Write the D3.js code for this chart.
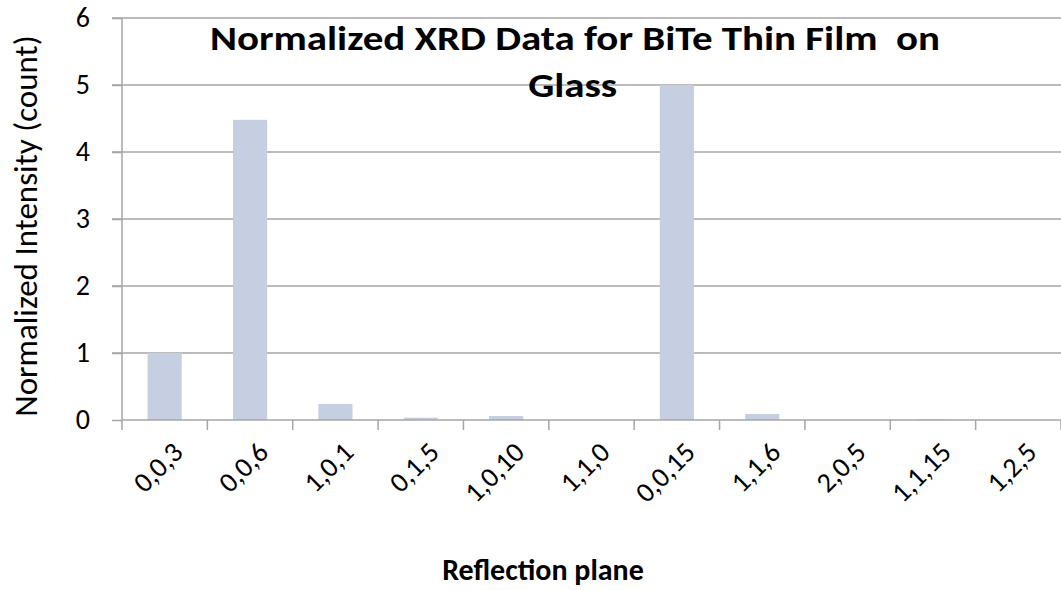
<!DOCTYPE html>
<meta charset="utf-8">
<html lang="en">
<head>
<meta charset="utf-8">
<title>Normalized XRD Data</title>
<script src="https://d3js.org/d3.v7.min.js"></script>
<style type="text/css">
body { margin: 0; background: #fff; }
text { font-family: Carlito, Lato, "Liberation Sans", sans-serif; fill: #000; }
.grid line { stroke: #a6a6a6; stroke-width: 1.5px; }
.bar { fill: #c6cee2; }
</style>
</head>
<body>
<div id="chart"></div>
<script type="text/javascript">
"use strict";

var planes = ["0,0,3", "0,0,6", "1,0,1", "0,1,5", "1,0,10", "1,1,0", "0,0,15", "1,1,6", "2,0,5", "1,1,15", "1,2,5"];
var intensity = [1.0, 4.48, 0.24, 0.035, 0.06, 0, 5.0, 0.09, 0, 0.01, 0];
var yTicks = [0, 1, 2, 3, 4, 5, 6];

var width = 1061, height = 590;
var margin = {left: 122, right: 0, top: 18, bottom: 170};

var svg = d3.select("#chart").append("svg")
    .attr("width", width)
    .attr("height", height);

var x = d3.scaleBand()
    .domain(planes)
    .range([margin.left, width - margin.right])
    .paddingInner(0.6)
    .paddingOuter(0.3);

var y = d3.scaleLinear()
    .domain([0, 6])
    .range([height - margin.bottom, margin.top]);

// gridlines
svg.append("g").attr("class", "grid")
  .selectAll("line")
  .data(yTicks.filter(function(d) { return d > 0; }))
  .enter().append("line")
    .attr("x1", margin.left - 10)
    .attr("x2", width - margin.right)
    .attr("y1", function(d) { return y(d); })
    .attr("y2", function(d) { return y(d); });

// bars
svg.append("g")
  .selectAll("rect")
  .data(planes)
  .enter().append("rect")
    .attr("class", "bar")
    .attr("x", function(d) { return x(d); })
    .attr("width", x.bandwidth())
    .attr("y", function(d, i) { return y(intensity[i]); })
    .attr("height", function(d, i) { return y(0) - y(intensity[i]); });

// y axis
var yAxis = svg.append("g")
    .attr("transform", "translate(" + margin.left + ",0)")
    .call(d3.axisLeft(y).tickValues(yTicks).tickFormat(d3.format("d")).tickSize(10).tickPadding(22));
yAxis.select(".domain").attr("stroke", "#a6a6a6").attr("stroke-width", 1.5).attr("d", "M0," + y(6) + "V" + y(0));
yAxis.selectAll(".tick line").attr("stroke", "#a6a6a6").attr("stroke-width", 1.5);
yAxis.selectAll("text").style("font-size", "28px").attr("font-family", null);

// x axis: ticks at category boundaries
var step = x.step();
var boundaries = d3.range(planes.length + 1).map(function(i) { return margin.left + i * step; });
var xg = svg.append("g");
xg.append("line")
    .attr("x1", margin.left).attr("x2", width - margin.right)
    .attr("y1", y(0)).attr("y2", y(0))
    .attr("stroke", "#a6a6a6").attr("stroke-width", 1.5);
xg.selectAll(".xt")
  .data(boundaries)
  .enter().append("line")
    .attr("x1", function(d) { return d; })
    .attr("x2", function(d) { return d; })
    .attr("y1", y(0)).attr("y2", y(0) + 10)
    .attr("stroke", "#a6a6a6").attr("stroke-width", 1.5);

xg.selectAll(".xl")
  .data(planes)
  .enter().append("text")
    .attr("transform", function(d) {
      return "translate(" + (x(d) + x.bandwidth() / 2 + 13) + "," + (y(0) + 27) + ") rotate(-45)";
    })
    .attr("text-anchor", "end")
    .attr("dy", "0.35em")
    .style("font-size", "28px")
    .text(function(d) { return d; });

// titles
var title = svg.append("text")
    .attr("transform", "translate(575,0) scale(1.17,1)")
    .attr("text-anchor", "middle")
    .style("font-size", "35px")
    .style("font-weight", "bold");
title.append("tspan").attr("x", 0).attr("y", 50).text("Normalized XRD Data for BiTe Thin Film\u00a0 on");
title.append("tspan").attr("x", -2).attr("y", 97).text("Glass");

svg.append("text")
    .attr("x", 543)
    .attr("y", 580)
    .attr("text-anchor", "middle")
    .style("font-size", "30px")
    .style("font-weight", "bold")
    .text("Reflection plane");

svg.append("text")
    .attr("transform", "translate(37,226) rotate(-90)")
    .attr("text-anchor", "middle")
    .style("font-size", "33px")
    .text("Normalized Intensity (count)");
</script>
</body>
</html>
